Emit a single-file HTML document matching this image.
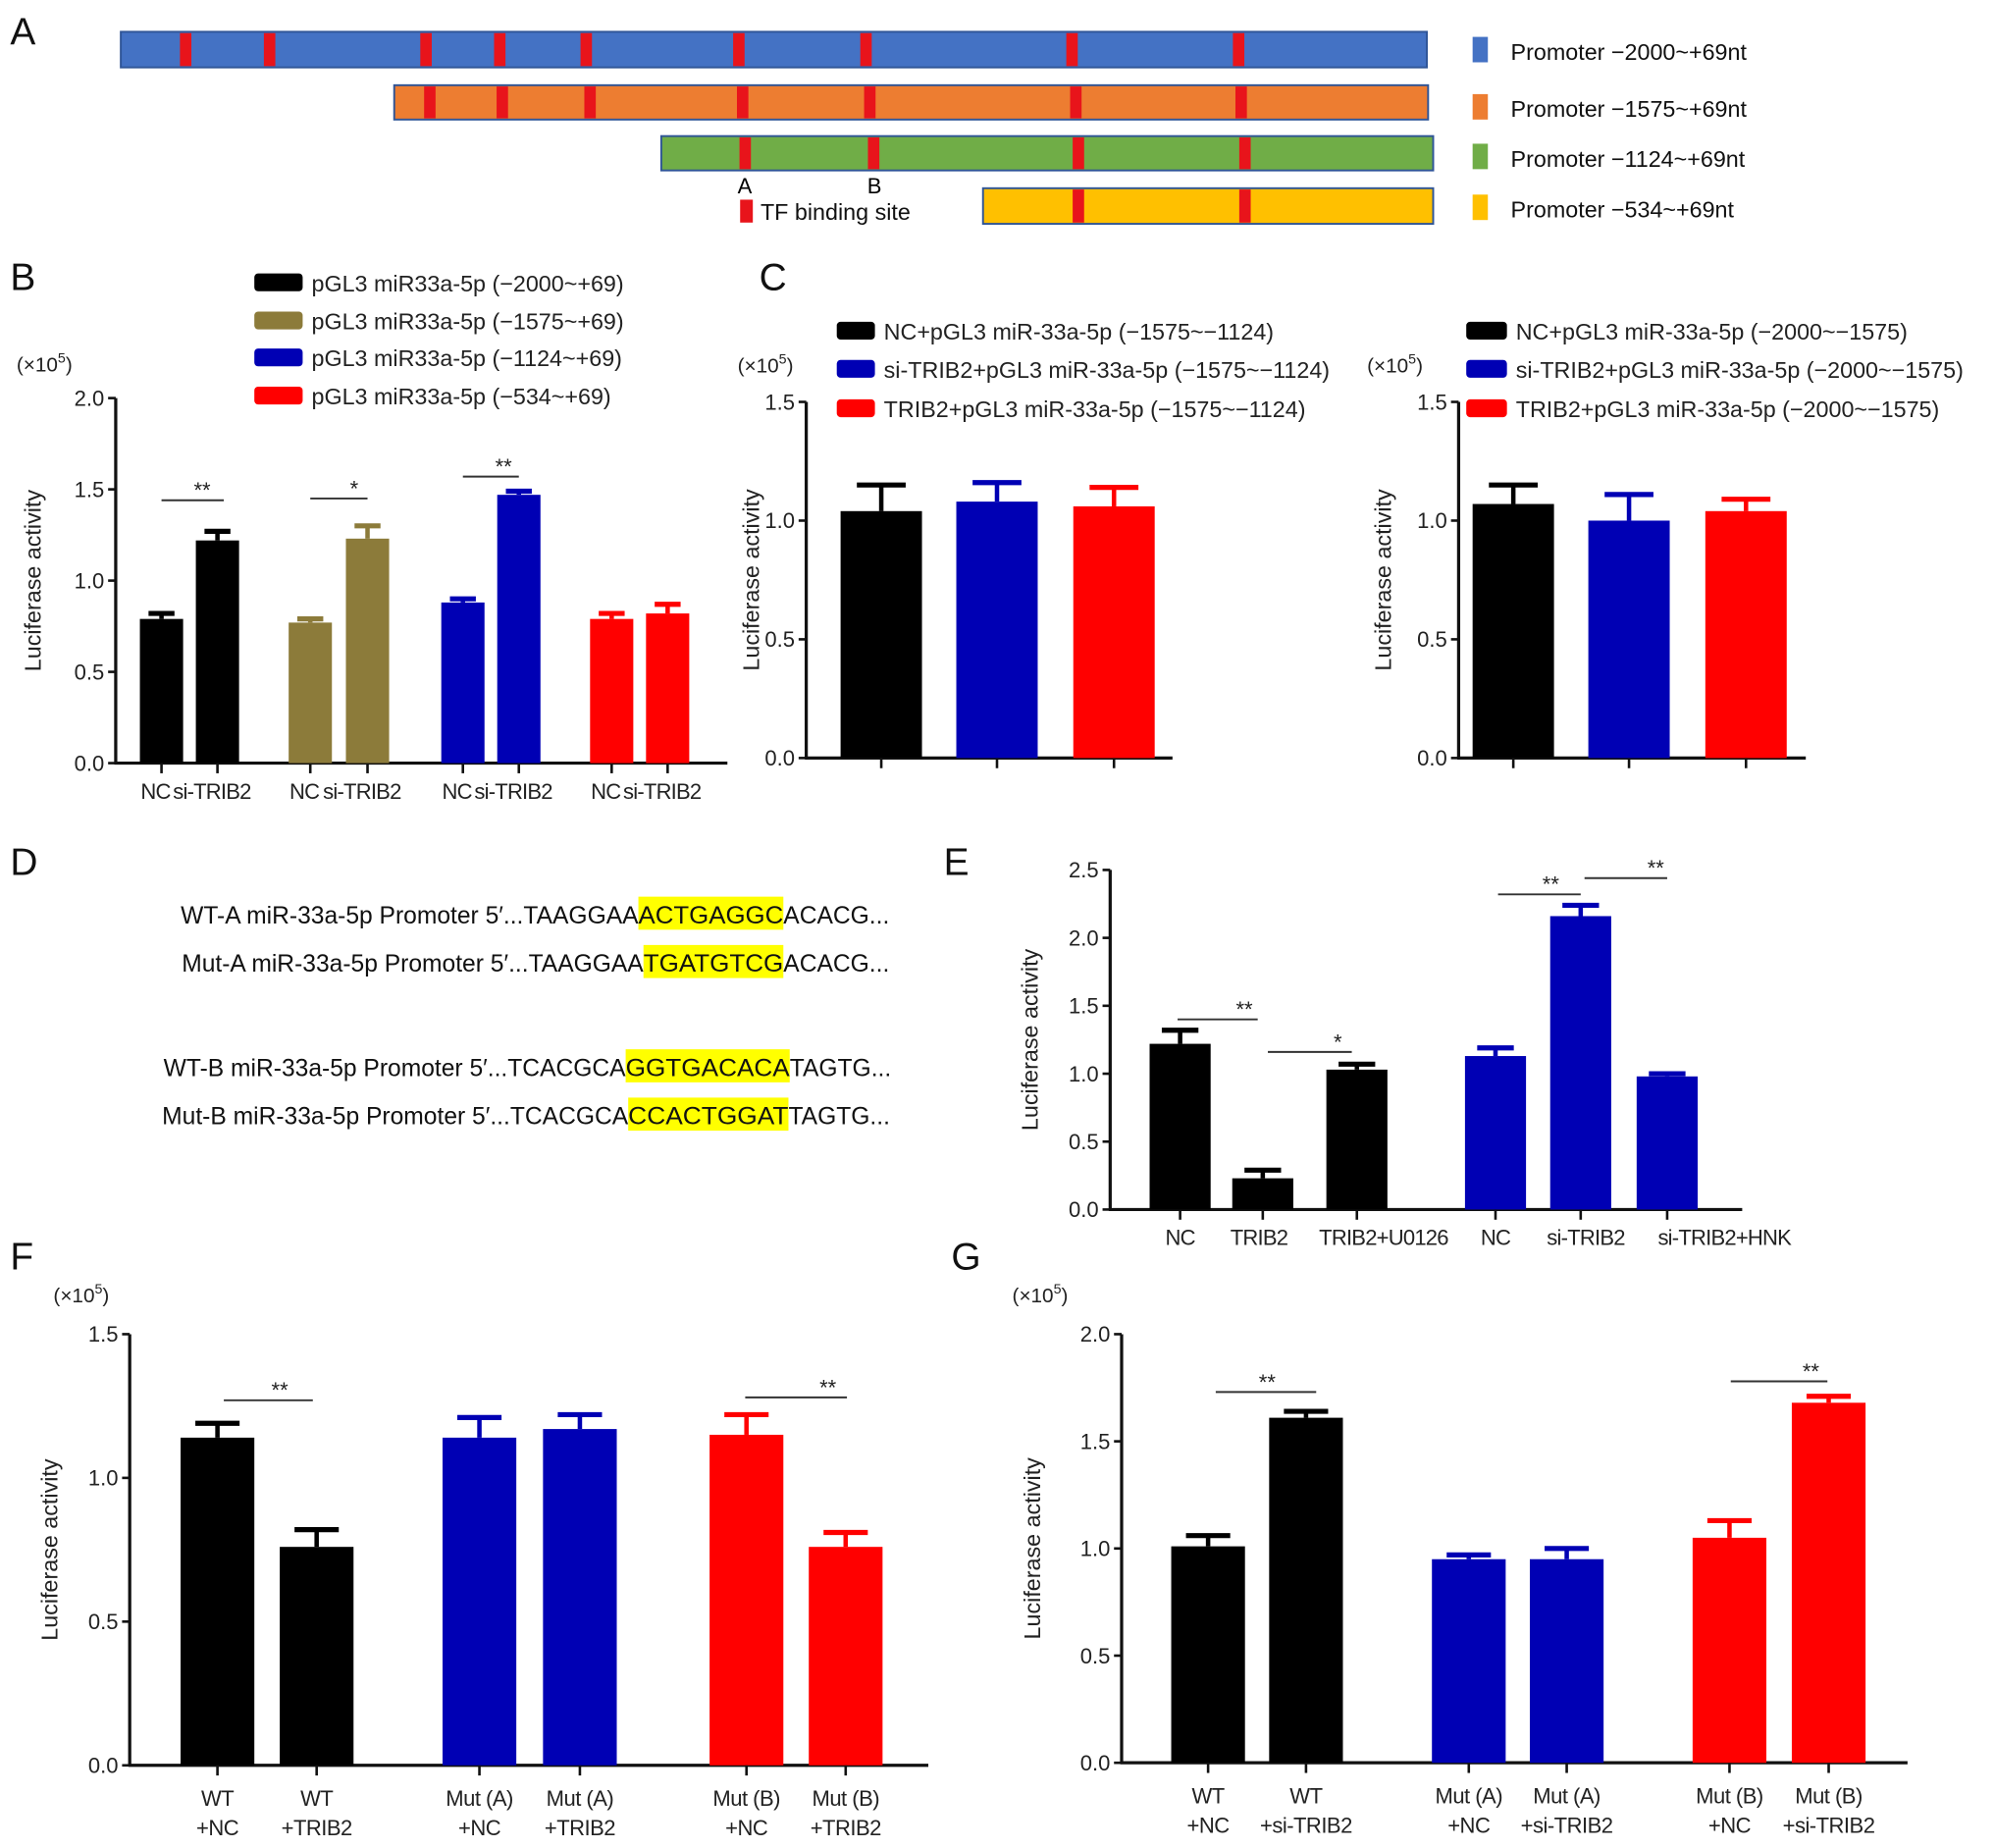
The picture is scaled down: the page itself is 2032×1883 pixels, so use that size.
<!DOCTYPE html>
<html><head><meta charset="utf-8">
<style>
html,body{margin:0;padding:0;background:#fff;}
svg{display:block;font-family:"Liberation Sans",Arial,sans-serif;}
</style></head>
<body>
<svg id="fig" width="2032" height="1883" viewBox="0 0 1568 1453" preserveAspectRatio="none" xmlns="http://www.w3.org/2000/svg">
<rect width="1568" height="1453" fill="#fff"/>
<g font-size="30" fill="#111">
<text x="8" y="35">A</text><text x="8" y="228">B</text><text x="597" y="228">C</text>
<text x="8" y="688">D</text><text x="742" y="688">E</text><text x="8" y="998">F</text><text x="748" y="998">G</text>
</g>
<g id="panelA"></g>
<g id="panelD" font-size="19" fill="#111"></g>
<g id="charts"></g>
</svg>
<script>
// ---------- Panel A data ----------
const promoterNames=["Promoter \u22122000~+69nt","Promoter \u22121575~+69nt","Promoter \u22121124~+69nt","Promoter \u2212534~+69nt"];
const promoterColors=["#4472c4","#ed7d31","#70ad47","#ffc000"];

// ---------- Panel B data ----------
const bCats=["NC","si-TRIB2","NC","si-TRIB2","NC","si-TRIB2","NC","si-TRIB2"];
const bValues=[0.79,1.22,0.77,1.23,0.88,1.47,0.79,0.82];
const bErrors=[0.03,0.05,0.02,0.07,0.02,0.02,0.03,0.05];
const bTicks=["0.0","0.5","1.0","1.5","2.0"];
const bLegend=["pGL3 miR33a-5p (\u22122000~+69)","pGL3 miR33a-5p (\u22121575~+69)","pGL3 miR33a-5p (\u22121124~+69)","pGL3 miR33a-5p (\u2212534~+69)"];

// ---------- Panel C data ----------
const c1Values=[1.04,1.08,1.06];
const c1Errors=[0.11,0.08,0.08];
const c1Legend=["NC+pGL3 miR-33a-5p (\u22121575~\u22121124)","si-TRIB2+pGL3 miR-33a-5p (\u22121575~\u22121124)","TRIB2+pGL3 miR-33a-5p (\u22121575~\u22121124)"];
const c2Values=[1.07,1.00,1.04];
const c2Errors=[0.08,0.11,0.05];
const c2Legend=["NC+pGL3 miR-33a-5p (\u22122000~\u22121575)","si-TRIB2+pGL3 miR-33a-5p (\u22122000~\u22121575)","TRIB2+pGL3 miR-33a-5p (\u22122000~\u22121575)"];
const cTicks=["0.0","0.5","1.0","1.5"];

// ---------- Panel E data ----------
const eCats=["NC","TRIB2","TRIB2+U0126","NC","si-TRIB2","si-TRIB2+HNK"];
const eValues=[1.22,0.23,1.03,1.13,2.16,0.98];
const eErrors=[0.10,0.06,0.04,0.06,0.08,0.02];
const eTicks=["0.0","0.5","1.0","1.5","2.0","2.5"];

// ---------- Panel F data ----------
const fCats=[["WT","+NC"],["WT","+TRIB2"],["Mut (A)","+NC"],["Mut (A)","+TRIB2"],["Mut (B)","+NC"],["Mut (B)","+TRIB2"]];
const fValues=[1.14,0.76,1.14,1.17,1.15,0.76];
const fErrors=[0.05,0.06,0.07,0.05,0.07,0.05];
const fTicks=["0.0","0.5","1.0","1.5"];

// ---------- Panel G data ----------
const gCats=[["WT","+NC"],["WT","+si-TRIB2"],["Mut (A)","+NC"],["Mut (A)","+si-TRIB2"],["Mut (B)","+NC"],["Mut (B)","+si-TRIB2"]];
const gValues=[1.01,1.61,0.95,0.95,1.05,1.68];
const gErrors=[0.05,0.03,0.02,0.05,0.08,0.03];
const gTicks=["0.0","0.5","1.0","1.5","2.0"];

const NS="http://www.w3.org/2000/svg";
function mk(tag,attrs,parent,text){const e=document.createElementNS(NS,tag);for(const k in attrs)e.setAttribute(k,attrs[k]);if(text!==undefined)e.textContent=text;parent.appendChild(e);return e;}

// ---------- Draw Panel A ----------
const A=document.getElementById('panelA');
const aBars=[{x0:95,x1:1122,y:25,h:28,marks:[146,212,335,393,461,581,681,843,974]},
 {x0:310,x1:1123,y:67,h:27,marks:[338,395,464,584,684,846,976]},
 {x0:520,x1:1127,y:107,h:27,marks:[586,687,848,979]},
 {x0:773,x1:1127,y:148,h:28,marks:[848,979]}];
const legY=[40,85,124,164];
aBars.forEach((b,i)=>{
  const r=mk('rect',{x:b.x0,y:b.y,width:b.x1-b.x0,height:b.h,fill:promoterColors[i],stroke:'#2f5597','stroke-width':1.5},A);
  
  
  b.marks.forEach(m=>{const s=mk('rect',{x:m-4.5,y:b.y+1,width:9,height:b.h-2,fill:'#e8141b'},A);
    
    });
  const ls=mk('rect',{x:1158,y:legY[i]-11,width:12,height:20,fill:promoterColors[i]},A);
  
  
  const lt=mk('text',{x:1188,y:legY[i]+7,'font-size':18,fill:'#111'},A,promoterNames[i]);
  
  
});
mk('text',{x:580,y:152,'font-size':17},A,'A');
mk('text',{x:682,y:152,'font-size':17},A,'B');
mk('rect',{x:582,y:157,width:10,height:18,fill:'#e8141b'},A);
mk('text',{x:598,y:173,'font-size':18,fill:'#111'},A,'TF binding site');

// ---------- Draw Panel D ----------
const D=document.getElementById('panelD');
const seqs=[
 {y:720,pre:"WT-A miR-33a-5p Promoter 5\u2032...TAAGGAA",hl:"ACTGAGGC",post:"ACACG...",hx0:502,hx1:616},
 {y:758,pre:"Mut-A miR-33a-5p Promoter 5\u2032...TAAGGAA",hl:"TGATGTCG",post:"ACACG...",hx0:506,hx1:616},
 {y:840,pre:"WT-B miR-33a-5p Promoter 5\u2032...TCACGCA",hl:"GGTGACACA",post:"TAGTG...",hx0:492,hx1:621},
 {y:878,pre:"Mut-B miR-33a-5p Promoter 5\u2032...TCACGCA",hl:"CCACTGGAT",post:"TAGTG...",hx0:494,hx1:620}];
seqs.forEach(s=>{
  mk('rect',{x:s.hx0,y:s.y-15,width:s.hx1-s.hx0,height:26,fill:'#ffff00'},D);
  mk('text',{x:s.hx0,y:s.y+6,'text-anchor':'end'},D,s.pre);
  mk('text',{x:s.hx0,y:s.y+6,textLength:s.hx1-s.hx0,lengthAdjust:'spacingAndGlyphs'},D,s.hl);
  mk('text',{x:s.hx1,y:s.y+6},D,s.post);
});

// ---------- Generic bar chart ----------
const C=document.getElementById('charts');
function chart(o){
  const g=mk('g',{},C);
  
  
  const yS=v=>o.y0-(v/o.ymax)*(o.y0-o.ytop);
  mk('line',{x1:o.ax,y1:o.ytop,x2:o.ax,y2:o.y0+1,stroke:'#111','stroke-width':2.5},g);
  mk('line',{x1:o.ax-1,y1:o.y0,x2:o.axEnd,y2:o.y0,stroke:'#111','stroke-width':2.5},g);
  o.ticks.forEach(t=>{const y=yS(parseFloat(t));
    mk('line',{x1:o.ax-6,y1:y,x2:o.ax,y2:y,stroke:'#111','stroke-width':2},g);
    const tl=mk('text',{x:o.ax-9,y:y+6,'text-anchor':'end','font-size':17,fill:'#222'},g,t);
    
    });
  const yl=mk('text',{x:0,y:0,transform:`translate(${o.ylx},${(o.ytop+o.y0)/2}) rotate(-90)`,'text-anchor':'middle','font-size':18,fill:'#222'},g,'Luciferase activity');
  
  
  if(o.unit){const u=mk('text',{x:o.unit[0],y:o.unit[1],'font-size':16,fill:'#222'},g,'(\u00d710');
    mk('tspan',{'font-size':11,dy:-7},u,'5');mk('tspan',{dy:7},u,')');}
  o.values.forEach((v,i)=>{
    const cx=o.xs[i],w=o.bw,col=o.colors[i];
    const top=yS(v),et=yS(v+o.errors[i]);
    mk('line',{x1:cx,y1:top,x2:cx,y2:et,stroke:col,'stroke-width':3.5},g);
    mk('line',{x1:cx-w*0.3,y1:et,x2:cx+w*0.3,y2:et,stroke:col,'stroke-width':4},g);
    const r=mk('rect',{x:cx-w/2,y:top,width:w,height:o.y0-top,fill:col},g);
    
    
    mk('line',{x1:cx,y1:o.y0,x2:cx,y2:o.y0+8,stroke:'#111','stroke-width':2},g);
    if(o.cats){const c=o.cats[i];
      if(Array.isArray(c)){mk('text',{x:cx,y:o.y0+32,'text-anchor':'middle','font-size':17,'letter-spacing':-0.4,fill:'#222'},g,c[0]);
        mk('text',{x:cx,y:o.y0+55,'text-anchor':'middle','font-size':17,'letter-spacing':-0.4,fill:'#222'},g,c[1]);}
      else{const anchor=o.catAnchor?o.catAnchor[i]:'middle';const dx=o.catDx?o.catDx[i]:0;
        const t=mk('text',{x:cx+dx,y:o.y0+o.catDy,'text-anchor':anchor,'font-size':17,'letter-spacing':-0.6,fill:'#222'},g,c);
        
        }}
  });
  (o.sig||[]).forEach(s=>{
    const yy=yS(s[2]);
    mk('line',{x1:o.xs[s[0]]-(s[4]||0),y1:yy,x2:o.xs[s[1]]+(s[5]||0),y2:yy,stroke:'#333','stroke-width':1.5},g);
    mk('text',{x:(o.xs[s[0]]+o.xs[s[1]])/2+(s[6]||0),y:yy-2,'text-anchor':'middle','font-size':17,fill:'#222'},g,s[3]);
  });
  if(o.legend){o.legend.forEach((l,i)=>{
    const y=o.legY[i];
    const sw=mk('rect',{x:o.legX,y:y-7,width:o.legW,height:14,rx:3,fill:o.legColors[i]},g);
    
    
    const t=mk('text',{x:o.legX+o.legW+7,y:y+7,'font-size':18,fill:'#222'},g,l);
    
    });}
}
const BK='#000',OL='#8c7b3a',BL='#0000b4',RD='#ff0000';
chart({name:'chart-b',ax:91,axEnd:572,y0:600,ytop:313,ymax:2.0,ticks:bTicks,values:bValues,errors:bErrors,
  xs:[127,171,244,289,364,408,481,525],bw:34,colors:[BK,BK,OL,OL,BL,BL,RD,RD],ylx:32,unit:[13,292],
  cats:bCats,catDy:28,catAnchor:['end','start','end','start','end','start','end','start'],catDx:[7,-35,7,-35,7,-35,7,-35],
  sig:[[0,1,1.44,'**',0,5,10],[2,3,1.45,'*',0,0,12],[4,5,1.57,'**',0,0,10]],
  legend:bLegend,legX:200,legW:38,legY:[222,252,281,311],legColors:[BK,OL,BL,RD]});
chart({name:'chart-c-left',ax:634,axEnd:922,y0:596,ytop:316,ymax:1.5,ticks:cTicks,values:c1Values,errors:c1Errors,
  xs:[693,784,876],bw:64,colors:[BK,BL,RD],ylx:597,unit:[580,293],
  legend:c1Legend,legX:658,legW:30,legY:[260,290,321],legColors:[BK,BL,RD]});
chart({name:'chart-c-right',ax:1147,axEnd:1420,y0:596,ytop:316,ymax:1.5,ticks:cTicks,values:c2Values,errors:c2Errors,
  xs:[1190,1281,1373],bw:64,colors:[BK,BL,RD],ylx:1094,unit:[1075,293],
  legend:c2Legend,legX:1153,legW:32,legY:[260,290,321],legColors:[BK,BL,RD]});
chart({name:'chart-e',ax:873,axEnd:1370,y0:951,ytop:684,ymax:2.5,ticks:eTicks,values:eValues,errors:eErrors,
  xs:[928,993,1067,1176,1243,1311],bw:48,colors:[BK,BK,BK,BL,BL,BL],ylx:816,
  cats:eCats,catDy:28,catDx:[0,-3,21,0,4,45],
  sig:[[0,1,1.40,'**',2,-4,18],[1,2,1.16,'*',-4,-4,22],[3,4,2.32,'**',-2,0,10],[4,5,2.44,'**',-3,0,25]]});
chart({name:'chart-f',ax:102,axEnd:730,y0:1388,ytop:1049,ymax:1.5,ticks:fTicks,values:fValues,errors:fErrors,
  xs:[171,249,377,456,587,665],bw:58,colors:[BK,BK,BL,BL,RD,RD],ylx:45,unit:[42,1024],
  cats:fCats,
  sig:[[0,1,1.27,'**',-5,-3,10],[4,5,1.28,'**',1,1,25]]});
chart({name:'chart-g',ax:882,axEnd:1500,y0:1386,ytop:1049,ymax:2.0,ticks:gTicks,values:gValues,errors:gErrors,
  xs:[950,1027,1155,1232,1360,1438],bw:58,colors:[BK,BK,BL,BL,RD,RD],ylx:818,unit:[796,1024],
  cats:gCats,
  sig:[[0,1,1.73,'**',-6,8,8],[4,5,1.78,'**',-1,-1,25]]});
</script>
</body></html>
